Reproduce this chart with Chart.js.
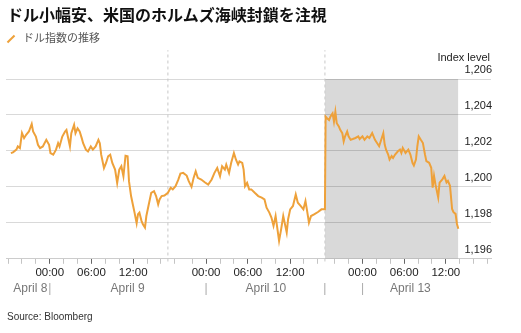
<!DOCTYPE html>
<html>
<head>
<meta charset="utf-8">
<script src="https://cdn.jsdelivr.net/npm/chart.js@4/dist/chart.umd.min.js"></script>
<style>
  body{margin:0;width:521px;height:333px;position:relative;overflow:hidden;background:#fff;font-family:'Liberation Sans',Arial,sans-serif}
  canvas{position:absolute;left:0;top:0}
  .txt{position:absolute;white-space:nowrap}
</style>
</head>
<body>
<canvas id="chart-dxy" width="521" height="333"></canvas>
<div class="txt" style="left:7px;top:4px;font:bold 16px/20px 'Noto Sans CJK JP';color:#111">ドル小幅安、米国のホルムズ海峡封鎖を注視</div>
<div class="txt" style="left:10px;top:34px;width:2px;height:10px;background:#eea13a;transform:rotate(45deg)"></div>
<div class="txt" style="left:23px;top:30px;font:11px/14px 'Noto Sans CJK JP';color:#555">ドル指数の推移</div>
<div class="txt" style="right:31px;top:50px;font:11px/14px 'Liberation Sans';color:#222">Index level</div>
<div class="txt" style="left:7px;top:310px;font:10px/13px 'Liberation Sans';color:#333">Source: Bloomberg</div>
<script>
// horas desde April 9 00:00 (eje comprimido, sin fin de semana)
const horas = [
  -5.6,-5.3,-4.8,-4.6,-4.3,-4.0,-3.7,-3.4,-3.0,-2.6,-2.4,-2.0,-1.7,-1.4,-1.0,-0.5,-0.1,
  0.1,0.5,0.9,1.2,1.4,1.8,2.2,2.4,2.6,2.9,3.1,3.5,3.7,4.0,4.3,4.6,4.8,5.2,5.5,5.9,
  6.2,6.6,7.0,7.2,7.4,7.8,8.1,8.4,8.7,9.0,9.4,9.7,10.0,10.3,10.6,10.9,11.2,11.4,11.7,
  12.0,12.2,12.5,12.7,12.9,13.2,13.4,13.7,13.9,14.2,14.6,15.0,15.3,15.6,15.8,16.1,16.5,
  17.0,17.4,17.7,18.1,18.5,18.8,19.2,19.7,20.0,20.4,20.7,21.0,21.3,21.8,22.3,22.8,
  23.3,23.7,24.1,24.5,24.8,25.2,25.4,25.8,26.1,26.5,26.8,27.1,27.3,27.7,27.9,28.1,
  28.4,28.7,29.0,29.5,30.0,30.5,30.9,31.2,31.6,31.9,32.2,32.5,32.7,33.0,33.3,33.6,
  33.8,34.1,34.3,34.6,35.0,35.4,35.7,36.1,36.5,36.8,37.0,37.3,37.6,38.1,38.6,39.1,39.6,
  39.7,39.9,40.2,40.4,40.7,40.9,41.1,41.3,41.6,41.8,42.1,42.3,42.5,42.8,43.0,43.3,
  43.6,44.0,44.4,44.6,45.0,45.3,45.7,46.0,46.4,46.8,47.1,47.4,47.7,48.0,48.2,48.4,
  48.7,48.9,49.2,49.4,49.7,50.1,50.4,50.6,50.8,51.2,51.6,51.9,52.2,52.4,52.7,52.9,
  53.1,53.4,53.7,54.0,54.2,54.6,54.9,55.1,55.3,55.5,55.9,56.1,56.5,56.8,57.1,57.3,
  57.6,57.9,58.1,58.4,58.6,58.8
]
const dxy = [
  1201.88,1201.92,1202.07,1202.25,1202.16,1202.99,1202.71,1202.90,1203.08,1203.50,1203.08,1202.80,1202.34,1202.16,1202.25,1202.62,1202.34,
  1201.88,1201.79,1202.07,1202.43,1202.25,1202.80,1203.08,1203.17,1202.80,1202.25,1202.99,1203.45,1202.99,1203.26,1203.08,1202.71,1202.43,1202.07,1201.97,1202.25,
  1202.07,1202.25,1202.62,1202.43,1201.79,1201.05,1201.33,1201.70,1201.79,1201.33,1200.96,1200.22,1200.96,1201.15,1200.59,1201.73,1201.70,1200.32,1199.49,
  1198.94,1198.57,1197.98,1198.48,1198.57,1198.11,1197.92,1197.74,1198.38,1198.94,1199.67,1199.76,1199.49,1199.03,1199.30,1199.49,1199.52,
  1199.67,1199.95,1199.86,1200.04,1200.40,1200.74,1200.78,1200.63,1200.32,1200.00,1200.50,1200.87,1200.50,1200.41,1200.26,1200.13,
  1200.41,1200.78,1201.05,1200.59,1201.15,1200.96,1201.24,1200.78,1201.33,1201.88,1201.51,1201.24,1201.42,1201.33,1200.96,1200.04,
  1200.22,1199.86,1199.86,1199.67,1199.49,1199.40,1199.30,1198.84,1198.57,1198.29,1197.83,1198.38,1197.83,1197.00,1197.65,1198.38,
  1198.01,1197.46,1198.20,1198.75,1198.94,1199.58,1199.12,1198.94,1198.75,1199.21,1198.75,1198.01,1198.38,1198.48,1198.60,1198.75,1198.75,
  1203.91,1203.82,1203.72,1203.91,1204.09,1203.63,1204.18,1203.54,1203.36,1203.17,1202.99,1202.53,1202.81,1203.08,1202.81,1202.62,
  1202.66,1202.72,1202.81,1202.66,1202.81,1202.62,1202.81,1202.72,1202.99,1202.62,1202.44,1202.26,1202.62,1202.99,1202.35,1202.07,
  1201.80,1201.52,1201.71,1201.61,1201.80,1201.98,1202.07,1201.89,1202.17,1201.89,1202.07,1201.80,1201.34,1201.19,1201.52,1202.26,
  1202.81,1202.62,1202.44,1201.80,1201.43,1201.34,1201.06,1199.96,1200.61,1200.15,1199.41,1200.24,1200.42,1200.61,1200.24,1200.33,
  1200.06,1198.77,1198.59,1198.50,1197.94,1197.67
]

// cortes de sesion (lineas punteadas) y ultima sesion sombreada
const cortesSesion = [17.0, 39.6]
const ultimaSesion = [39.6, 58.8]

// eje x: horas
const marcasMayores = [0, 6, 12, 22.5, 28.5, 34.6, 45, 51, 57]
const etiquetasHora = ['00:00','06:00','12:00','00:00','06:00','12:00','00:00','06:00','12:00']
const marcasMenores = [-6,-4,-2,2,4,8,10,14,16,18,20.5,24.5,26.5,30.5,32.5,36.5,38.5,41,43,47,49,53,55,59,61,63]

// eje x: dias
const dias = ['April 8','April 9','April 10','April 13']
const centrosDias = [-2.8, 11.2, 31.1, 51.9]
const separadoresDias = [0, 22.5, 39.6, 45]

// eje y
const yTicks = [1196, 1198, 1200, 1202, 1204, 1206]
const yMin = 1196, yMax = 1206
const xMin = -6.3, xMax = 63.5

Chart.defaults.font.family = "'Liberation Sans', Arial, sans-serif"
Chart.defaults.font.size = 11
Chart.defaults.color = '#222'

const esSeparador = (c) => !!(c.tick && separadoresDias.includes(c.tick.value))
const esMayor = (c) => !!(c.tick && marcasMayores.includes(c.tick.value))

const lineasSesion = []
cortesSesion.forEach((h) => {
  lineasSesion.push({x: h, y: 1195.85}, {x: h, y: 1207.6}, {x: h, y: null})
})

const ctx = document.getElementById('chart-dxy').getContext('2d')

let graficoDxy = new Chart(ctx, {
  type: 'line',
  data: {
    datasets: [{
      label: 'ドル指数の推移',
      data: horas.map((h, i) => ({x: h, y: dxy[i]})),
      borderColor: '#eea13a',
      borderWidth: 2,
      pointRadius: 0,
      tension: 0,
      order: 0
    }, {
      label: 'sesion',
      data: lineasSesion,
      borderColor: '#c8c8c8',
      borderWidth: 1,
      borderDash: [3, 3],
      pointRadius: 0,
      spanGaps: false,
      clip: false,
      order: 1
    }, {
      label: 'ultima',
      data: ultimaSesion.map((h) => ({x: h, y: yMax})),
      borderWidth: 0,
      pointRadius: 0,
      fill: 'start',
      backgroundColor: 'rgba(0,0,0,0.15)',
      order: 2
    }]
  },
  options: {
    responsive: false,
    animation: false,
    layout: {padding: {left: 6, right: 28, top: 79, bottom: 37}},
    plugins: {legend: {display: false}, tooltip: {enabled: false}},
    scales: {
      x: {
        type: 'linear',
        position: 'bottom',
        min: xMin,
        max: xMax,
        border: {color: '#cccccc'},
        grid: {
          drawOnChartArea: false,
          tickLength: 5,
          tickColor: (c) => esMayor(c) ? '#666' : '#c4c4c4'
        },
        afterBuildTicks: (ax) => {
          ax.ticks = marcasMayores.concat(marcasMenores).sort((a, b) => a - b).map((v) => ({value: v}))
        },
        ticks: {
          autoSkip: false,
          maxRotation: 0,
          padding: 2,
          color: '#222',
          font: {size: 11.5},
          callback: (v) => {
            const i = marcasMayores.indexOf(v)
            return i >= 0 ? etiquetasHora[i] : ''
          }
        }
      },
      x2: {
        type: 'linear',
        axis: 'x',
        position: 'bottom',
        min: xMin,
        max: xMax,
        border: {display: false},
        grid: {drawOnChartArea: false, drawTicks: false},
        afterBuildTicks: (ax) => {
          ax.ticks = separadoresDias.concat(centrosDias).sort((a, b) => a - b).map((v) => ({value: v}))
        },
        ticks: {
          autoSkip: false,
          maxRotation: 0,
          padding: 0,
          color: (c) => esSeparador(c) ? '#aaa' : '#777',
          font: {size: 12},
          callback: (v) => {
            const i = centrosDias.indexOf(v)
            return i >= 0 ? dias[i] : '|'
          }
        }
      },
      y: {
        position: 'right',
        min: yMin,
        max: yMax,
        border: {display: false},
        grid: {color: '#d9d9d9', drawTicks: false},
        afterBuildTicks: (ax) => {
          ax.ticks = yTicks.map((v) => ({value: v}))
        },
        ticks: {
          mirror: true,
          labelOffset: -9,
          padding: 1,
          color: '#222',
          callback: (v) => v.toLocaleString('en-US')
        }
      }
    }
  }
})
</script>
</body>
</html>
